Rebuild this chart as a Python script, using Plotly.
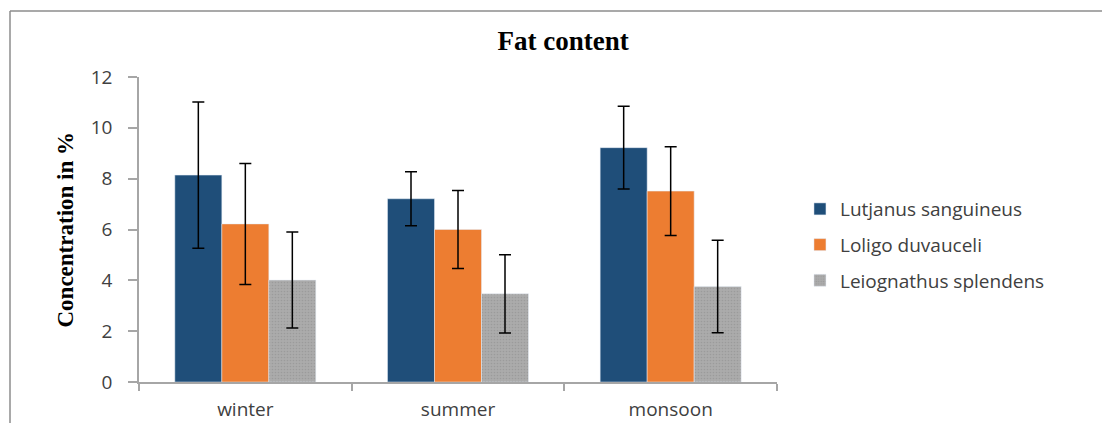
import plotly.graph_objects as go

seasons = ["winter", "summer", "monsoon"]
species = ["Lutjanus sanguineus", "Loligo duvauceli", "Leiognathus splendens"]
lutjanus = [8.14, 7.21, 9.22]
lutjanus_err = [2.88, 1.06, 1.63]
loligo = [6.22, 6.00, 7.51]
loligo_err = [2.38, 1.53, 1.75]
leiognathus = [4.01, 3.47, 3.76]
leiognathus_err = [1.89, 1.54, 1.82]
y_ticks = [0, 2, 4, 6, 8, 10, 12]

colors = ["#1F4E79", "#ED7D31", "#A5A5A5"]
values = [lutjanus, loligo, leiognathus]
errors = [lutjanus_err, loligo_err, leiognathus_err]

fig = go.Figure()
for i, (name, vals, errs) in enumerate(zip(species, values, errors)):
    marker = dict(color=colors[i])
    if i == 2:
        marker["pattern"] = dict(shape=".", fgcolor="#8c8c8c", bgcolor="#ababab",
                                 size=3, solidity=0.25)
    fig.add_trace(go.Bar(
        x=seasons, y=vals, name=name, marker=marker, legendgroup=f"g{i}",
        error_y=dict(type="data", array=errs, visible=True, color="black",
                     thickness=1.5, width=6),
    ))

tick_font = dict(family="Open Sans", size=19, color="#404040")

fig.update_layout(
    width=1102, height=423,
    margin=dict(l=139, r=325, t=77, b=41, autoexpand=False),
    paper_bgcolor="white", plot_bgcolor="white",
    barmode="group", bargap=0.337, bargroupgap=0,
    title=dict(text="<b>Fat content</b>", x=0.511, xanchor="center",
               y=1 - 41 / 423, yanchor="middle", yref="container",
               font=dict(family="Liberation Serif", size=27, color="black")),
    legend=dict(x=1.036, xanchor="left", y=0.449, yanchor="middle",
                font=dict(family="Open Sans", size=19, color="#404040"),
                traceorder="grouped", tracegroupgap=8,
                bgcolor="rgba(0,0,0,0)"),
    xaxis=dict(type="category", showline=True, linecolor="#A6A6A6", linewidth=1.5,
               ticks="outside", tickson="boundaries", ticklen=7, tickcolor="#A6A6A6",
               tickwidth=1.5, tickfont=tick_font, ticklabelstandoff=9,
               showgrid=False, zeroline=False, automargin=False),
    yaxis=dict(range=[0, 12], tickvals=y_ticks, showline=True, linecolor="#A6A6A6",
               linewidth=1.5, ticks="outside", ticklen=9, tickcolor="#A6A6A6",
               tickwidth=1.5, tickfont=tick_font, ticklabelstandoff=12,
               showgrid=False, zeroline=False, automargin=False),
    annotations=[dict(text="<b>Concentration in %</b>", textangle=-90,
                      xref="paper", yref="paper", x=(65 - 139) / 638, y=0.5,
                      xanchor="center", yanchor="middle", showarrow=False,
                      font=dict(family="Liberation Serif", size=23, color="black"))],
    shapes=[
        dict(type="line", xref="paper", yref="paper",
             x0=(10 - 139) / 638, x1=(1102 - 139) / 638,
             y0=(382 - 11) / 305, y1=(382 - 11) / 305,
             line=dict(color="#8C8C8C", width=1.5)),
        dict(type="line", xref="paper", yref="paper",
             x0=(10 - 139) / 638, x1=(10 - 139) / 638,
             y0=(382 - 11) / 305, y1=(382 - 423) / 305,
             line=dict(color="#8C8C8C", width=1.5)),
    ],
)

fig.write_html("out.html", config={"displayModeBar": False},
               post_script="document.body.style.margin='0';document.body.style.overflow='hidden';")
